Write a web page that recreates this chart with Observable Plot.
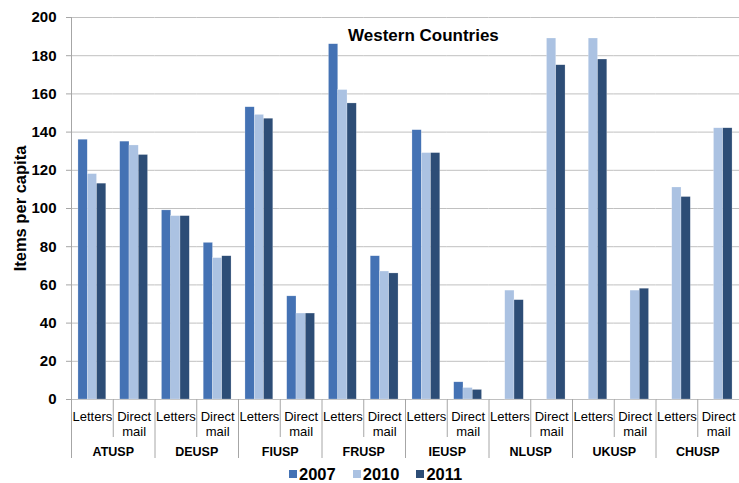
<!DOCTYPE html>
<html><head><meta charset="utf-8">
<script src="https://cdn.jsdelivr.net/npm/d3@7"></script>
<script src="https://cdn.jsdelivr.net/npm/@observablehq/plot@0.6"></script>
<style>
html,body{margin:0;padding:0;background:#fff;overflow:hidden;}
#wrap{position:relative;width:739px;height:483px;font-family:"Liberation Sans",Arial,sans-serif;color:#000;}
#title{position:absolute;left:348px;top:27px;font-size:17px;font-weight:bold;line-height:17px;white-space:nowrap;}
#legend{position:absolute;left:289px;top:466px;display:flex;align-items:center;font-size:16.5px;font-weight:bold;line-height:16px;}
#legend .item{display:flex;align-items:center;margin-right:17px;}
#legend .sw{width:8px;height:8px;margin-right:2px;}
</style></head><body><div id="wrap"></div>
<script>
const countries = ["ATUSP","DEUSP","FIUSP","FRUSP","IEUSP","NLUSP","UKUSP","CHUSP"];
const categories = ["Letters","Direct mail"];
const categoryLabels = ["Letters","Direct\nmail"];
const years = ["2007","2010","2011"];
// order: country by country, Letters then Direct mail
const values2007 = [136,135, 99,82, 153,54, 186,75, 141,9, null,null, null,null, null,null];
const values2010 = [118,133, 96,74, 149,45, 162,67, 129,6, 57,189, 189,57, 111,142];
const values2011 = [113,128, 96,75, 147,45, 155,66, 129,5, 52,175, 178,58, 106,142];
const yTicks = [0,20,40,60,80,100,120,140,160,180,200];
const colors = ["#4472B4","#ABC2E2","#2D4D76"];
const titleText = "Western Countries";
const yLabel = "Items per capita";

const W = 739, H = 468, ML = 71, MR = 0, MT = 17, MB = 69;
const keys = countries.flatMap(c => categories.map(k => c + "|" + k));
const fw = (W - ML - MR) / keys.length;
const series = [values2007, values2010, values2011];
const rows = [];
countries.forEach((c, ci) => categories.forEach((k, ki) => years.forEach((y, yi) => {
  const v = series[yi][ci * 2 + ki];
  if (v != null) rows.push({key: c + "|" + k, year: y, value: v});
})));
const catRows = keys.map((k, i) => ({key: k, label: categoryLabels[i % 2]}));
const axisStroke = "#a6a6a6";

const plot = Plot.plot({
  width: W, height: H, marginLeft: ML, marginRight: MR, marginTop: MT, marginBottom: MB,
  style: {fontFamily: '"Liberation Sans", Arial, sans-serif', fontSize: "13px", color: "#000", background: "#fff", overflow: "visible"},
  fx: {domain: keys, paddingInner: 0, paddingOuter: 0, round: false, axis: null},
  x: {domain: years, paddingInner: 0, paddingOuter: 0.75, round: false, axis: null},
  y: {domain: [0, 200], axis: null},
  color: {domain: years, range: colors},
  marks: [
    Plot.gridY(yTicks, {stroke: "#c0c0c0", strokeOpacity: 1}),
    Plot.barY(rows, {fx: "key", x: "year", y: "value", fill: "year", stroke: "#ffffff", strokeWidth: 0.5, strokeOpacity: 0.45}),
    Plot.axisY(yTicks, {tickSize: 5, tickPadding: 10, stroke: axisStroke, fontSize: 15, fontWeight: "bold", label: null}),
    Plot.text([yLabel], {fx: () => keys[0], text: d => d, frameAnchor: "left", textAnchor: "middle", lineAnchor: "middle", dx: -51, rotate: -90, fontSize: 16.5, fontWeight: "bold"}),
    Plot.ruleX([keys[0]], {fx: d => d, x: null, dx: -fw / 2, insetBottom: -59, stroke: axisStroke}),
    Plot.ruleX(countries.slice(1).map(c => c + "|Letters"), {fx: d => d, x: null, y1: 0, y2: 0, dx: -fw / 2, insetBottom: -59, stroke: axisStroke}),
    Plot.ruleX(countries.map(c => c + "|Direct mail"), {fx: d => d, x: null, y1: 0, y2: 0, dx: -fw / 2, insetBottom: -38, stroke: axisStroke}),
    Plot.text(catRows, {fx: "key", text: "label", frameAnchor: "bottom", dy: 12, lineAnchor: "top", lineHeight: 1.08, fontSize: 13}),
    Plot.text(countries, {fx: d => d + "|Direct mail", text: d => d, frameAnchor: "bottom-left", textAnchor: "middle", dy: 48, lineAnchor: "top", fontSize: 12.5, fontWeight: "bold"})
  ]
});

const wrap = document.getElementById("wrap");
wrap.appendChild(plot);
const t = document.createElement("div");
t.id = "title"; t.textContent = titleText;
wrap.appendChild(t);
const lg = document.createElement("div");
lg.id = "legend";
years.forEach((y, i) => {
  const it = document.createElement("div"); it.className = "item";
  const sw = document.createElement("span"); sw.className = "sw"; sw.style.background = colors[i];
  const tx = document.createElement("span"); tx.textContent = y;
  it.appendChild(sw); it.appendChild(tx); lg.appendChild(it);
});
wrap.appendChild(lg);
</script></body></html>
